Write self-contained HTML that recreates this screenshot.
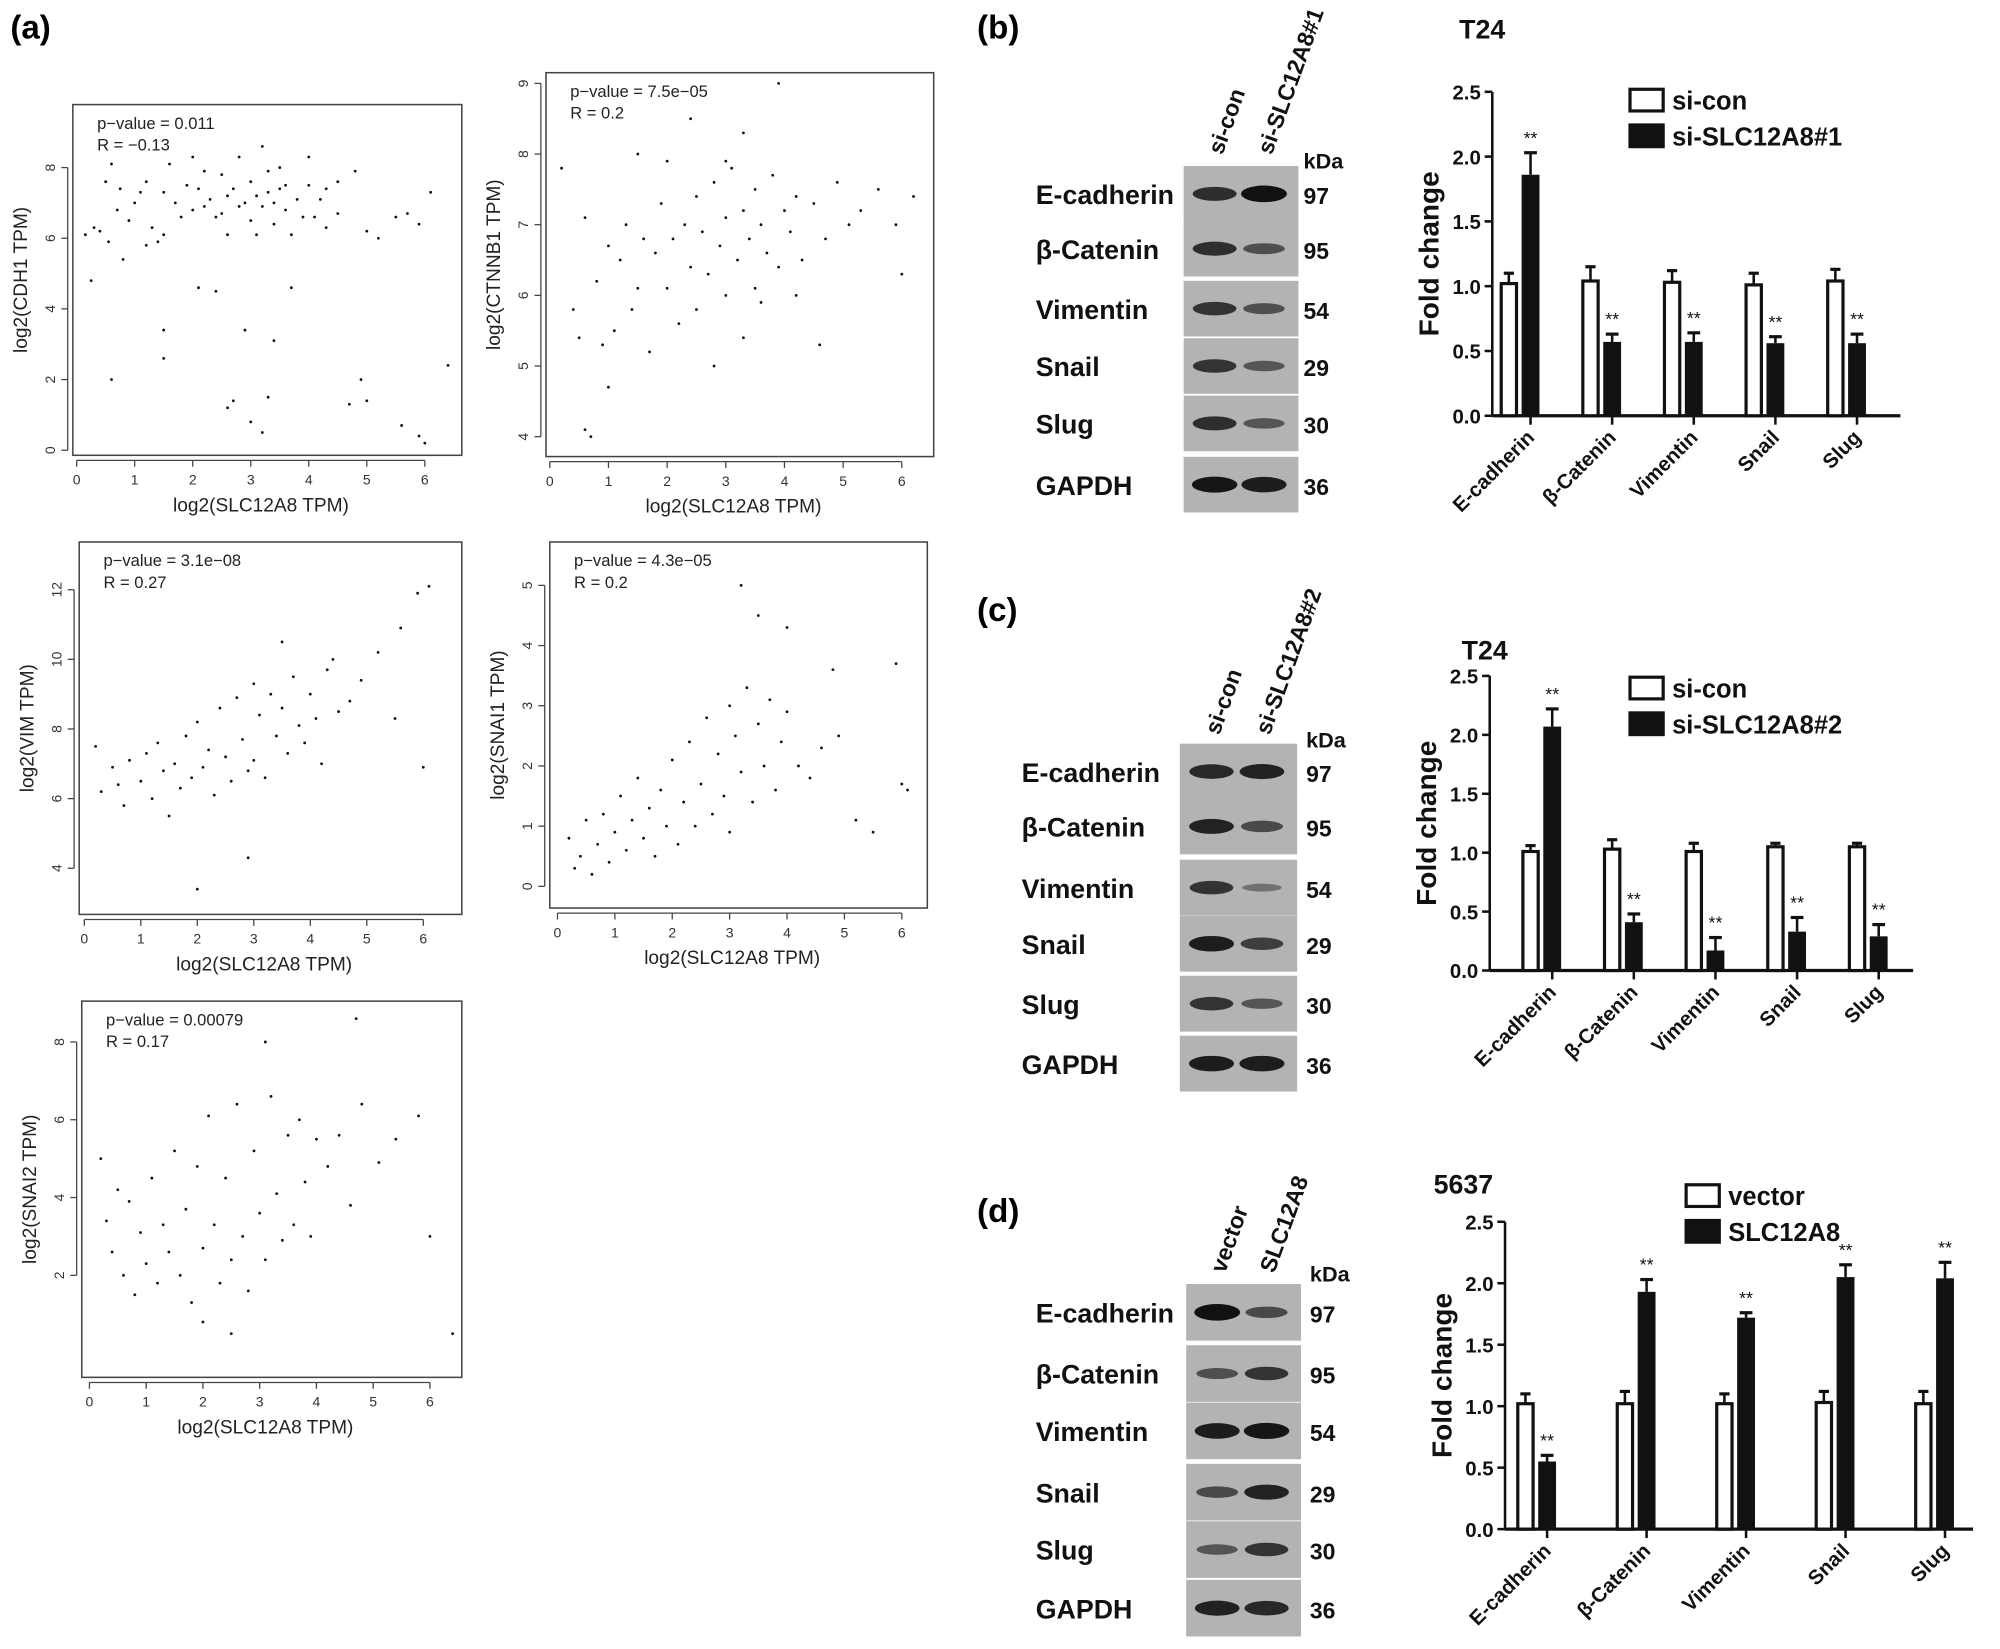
<!DOCTYPE html>
<html><head><meta charset="utf-8"><style>
html,body{margin:0;padding:0;background:#fff}
svg{display:block}
text{font-family:"Liberation Sans",sans-serif}
.b{font-weight:bold}
</style></head><body>
<svg id="fig" width="2000" height="1649" viewBox="0 0 1568 1293" xmlns="http://www.w3.org/2000/svg">
<rect width="1568" height="1293" fill="#fff"/>
<text x="8" y="30" font-size="26" class="b">(a)</text>
<text x="766" y="30" font-size="26" class="b">(b)</text>
<text x="766" y="487" font-size="26" class="b">(c)</text>
<text x="766" y="958" font-size="26" class="b">(d)</text>
<g id="scatters"></g>
<g id="blots"></g>
<g id="bars"></g>
</svg>
<script>
const NS="http://www.w3.org/2000/svg";
function mk(tag,attrs,parent,txt){const e=document.createElementNS(NS,tag);for(const k in attrs)e.setAttribute(k,attrs[k]);if(txt!==undefined)e.textContent=txt;parent.appendChild(e);return e;}

// ---------- scatter data (estimated) ----------
const cdh1X=[0.15,0.25,0.3,0.4,0.5,0.55,0.6,0.7,0.75,0.8,0.9,1.0,1.1,1.2,1.3,1.4,1.5,1.5,1.6,1.7,1.8,1.9,2.0,2.0,2.1,2.2,2.2,2.3,2.4,2.5,2.5,2.6,2.6,2.7,2.8,2.8,2.9,3.0,3.0,3.1,3.1,3.2,3.2,3.3,3.3,3.4,3.4,3.5,3.5,3.6,3.6,3.7,3.8,3.9,4.0,4.0,4.1,4.2,4.3,4.3,4.5,4.5,4.8,5.0,5.2,5.5,5.7,5.9,6.1,6.4,4.7,4.9,5.0,5.6,5.9,6.0,3.2,3.0,2.6,2.7,3.3,1.5,1.5,0.6,2.9,3.4,3.7,2.4,2.1,1.2];
const cdh1Y=[6.1,4.8,6.3,6.2,7.6,5.9,8.1,6.8,7.4,5.4,6.5,7.0,7.3,7.6,6.3,5.9,6.1,7.3,8.1,7.0,6.6,7.5,6.8,8.3,7.4,6.9,7.9,7.1,6.6,7.8,6.7,7.2,6.1,7.4,6.9,8.3,7.0,6.5,7.6,7.2,6.1,8.6,6.9,7.3,7.9,7.0,6.4,7.4,8.0,6.8,7.5,6.1,7.1,6.6,7.5,8.3,6.6,7.1,7.4,6.3,6.7,7.6,7.9,6.2,6.0,6.6,6.7,6.4,7.3,2.4,1.3,2.0,1.4,0.7,0.4,0.2,0.5,0.8,1.2,1.4,1.5,3.4,2.6,2.0,3.4,3.1,4.6,4.5,4.6,5.8];
const ctnnbX=[0.2,0.4,0.5,0.6,0.7,0.8,0.9,1.0,1.1,1.2,1.3,1.4,1.5,1.6,1.7,1.8,1.9,2.0,2.1,2.2,2.3,2.4,2.5,2.5,2.6,2.7,2.8,2.9,3.0,3.0,3.1,3.2,3.3,3.3,3.4,3.5,3.5,3.6,3.7,3.8,3.9,4.0,4.1,4.2,4.3,4.5,4.7,4.9,5.1,5.3,5.6,5.9,6.0,6.2,3.3,3.6,4.2,2.8,4.6,1.0,0.6,1.5,3.9,2.4,2.0,3.0];
const ctnnbY=[7.8,5.8,5.4,7.1,4.0,6.2,5.3,6.7,5.5,6.5,7.0,5.8,6.1,6.8,5.2,6.6,7.3,6.1,6.8,5.6,7.0,6.4,7.4,5.8,6.9,6.3,7.6,6.7,7.1,6.0,7.8,6.5,7.2,8.3,6.8,7.5,6.1,7.0,6.6,7.7,6.4,7.2,6.9,7.4,6.5,7.3,6.8,7.6,7.0,7.2,7.5,7.0,6.3,7.4,5.4,5.9,6.0,5.0,5.3,4.7,4.1,8.0,9.0,8.5,7.9,7.9];
const vimX=[0.2,0.3,0.5,0.6,0.7,0.8,1.0,1.1,1.2,1.3,1.4,1.5,1.6,1.7,1.8,1.9,2.0,2.1,2.2,2.3,2.4,2.5,2.6,2.7,2.8,2.9,3.0,3.0,3.1,3.2,3.3,3.4,3.5,3.6,3.7,3.8,3.9,4.0,4.1,4.2,4.3,4.5,4.7,4.9,5.2,5.5,5.9,6.1,6.0,2.0,2.9,3.5,4.4,5.6];
const vimY=[7.5,6.2,6.9,6.4,5.8,7.1,6.5,7.3,6.0,7.6,6.8,5.5,7.0,6.3,7.8,6.6,8.2,6.9,7.4,6.1,8.6,7.2,6.5,8.9,7.7,6.8,9.3,7.1,8.4,6.6,9.0,7.8,8.6,7.3,9.5,8.1,7.6,9.0,8.3,7.0,9.7,8.5,8.8,9.4,10.2,8.3,11.9,12.1,6.9,3.4,4.3,10.5,10.0,10.9];
const snaiX=[0.2,0.3,0.4,0.5,0.6,0.7,0.8,0.9,1.0,1.1,1.2,1.3,1.4,1.5,1.6,1.7,1.8,1.9,2.0,2.1,2.2,2.3,2.4,2.5,2.6,2.7,2.8,2.9,3.0,3.0,3.1,3.2,3.3,3.4,3.5,3.6,3.7,3.8,3.9,4.0,4.2,4.4,4.6,4.9,5.2,5.5,5.9,6.0,6.1,3.2,3.5,4.0,4.8];
const snaiY=[0.8,0.3,0.5,1.1,0.2,0.7,1.2,0.4,0.9,1.5,0.6,1.1,1.8,0.8,1.3,0.5,1.6,1.0,2.1,0.7,1.4,2.4,1.0,1.7,2.8,1.2,2.2,1.5,3.0,0.9,2.5,1.9,3.3,1.4,2.7,2.0,3.1,1.6,2.4,2.9,2.0,1.8,2.3,2.5,1.1,0.9,3.7,1.7,1.6,5.0,4.5,4.3,3.6];
const snai2X=[0.2,0.3,0.4,0.5,0.6,0.7,0.8,0.9,1.0,1.1,1.2,1.3,1.4,1.5,1.6,1.7,1.8,1.9,2.0,2.1,2.2,2.3,2.4,2.5,2.6,2.7,2.8,2.9,3.0,3.1,3.2,3.3,3.4,3.5,3.6,3.7,3.8,3.9,4.0,4.2,4.4,4.6,4.8,5.1,5.4,5.8,6.0,6.4,4.7,3.1,2.0,2.5];
const snai2Y=[5.0,3.4,2.6,4.2,2.0,3.9,1.5,3.1,2.3,4.5,1.8,3.3,2.6,5.2,2.0,3.7,1.3,4.8,2.7,6.1,3.3,1.8,4.5,2.4,6.4,3.0,1.6,5.2,3.6,2.4,6.6,4.1,2.9,5.6,3.3,6.0,4.4,3.0,5.5,4.8,5.6,3.8,6.4,4.9,5.5,6.1,3.0,0.5,8.6,8.0,0.8,0.5];

const scatterDefs=[
 {name:'cdh1',xs:cdh1X,ys:cdh1Y,bx:57,by:82,bw:305,bh:275,x0:60,xu:45.5,y0:353,yu:27.7,yt:[0,2,4,6,8],yl:'log2(CDH1 TPM)',p:'p−value = 0.011',r:'R = −0.13'},
 {name:'ctnnb1',xs:ctnnbX,ys:ctnnbY,bx:428,by:57,bw:304,bh:301,x0:431,xu:46,y0:564,yu:55.4,yt:[4,5,6,7,8,9],yl:'log2(CTNNB1 TPM)',p:'p−value = 7.5e−05',r:'R = 0.2'},
 {name:'vim',xs:vimX,ys:vimY,bx:62,by:425,bw:300,bh:292,x0:66,xu:44.3,y0:790,yu:27.3,yt:[4,6,8,10,12],yl:'log2(VIM TPM)',p:'p−value = 3.1e−08',r:'R = 0.27'},
 {name:'snai1',xs:snaiX,ys:snaiY,bx:431,by:425,bw:296,bh:287,x0:437,xu:45,y0:695,yu:47.2,yt:[0,1,2,3,4,5],yl:'log2(SNAI1 TPM)',p:'p−value = 4.3e−05',r:'R = 0.2'},
 {name:'snai2',xs:snai2X,ys:snai2Y,bx:64,by:785,bw:298,bh:295,x0:70,xu:44.5,y0:1061,yu:30.5,yt:[2,4,6,8],yl:'log2(SNAI2 TPM)',p:'p−value = 0.00079',r:'R = 0.17'}
];
const sg=document.getElementById('scatters');
scatterDefs.forEach(d=>{
 const g=mk('g',{},sg);
 
 
 const sx=v=>d.x0+v*d.xu, sy=v=>d.y0-v*d.yu;
 const box=mk('rect',{x:d.bx,y:d.by,width:d.bw,height:d.bh,fill:'none',stroke:'#444','stroke-width':1.2},g);
 
 const axY=d.by+d.bh+4;
 mk('line',{x1:sx(0),x2:sx(6),y1:axY,y2:axY,stroke:'#444'},g);
 for(let i=0;i<=6;i++){mk('line',{x1:sx(i),x2:sx(i),y1:axY,y2:axY+5,stroke:'#444'},g);
  const t=mk('text',{x:sx(i),y:axY+19,'font-size':11,'text-anchor':'middle',fill:'#333'},g,String(i));
  }
 const axX=d.bx-4;
 mk('line',{x1:axX,x2:axX,y1:sy(d.yt[0]),y2:sy(d.yt[d.yt.length-1]),stroke:'#444'},g);
 d.yt.forEach(v=>{mk('line',{x1:axX-5,x2:axX,y1:sy(v),y2:sy(v),stroke:'#444'},g);
  const t=mk('text',{x:axX-10,y:sy(v),'font-size':11,'text-anchor':'middle',fill:'#333',transform:`rotate(-90 ${axX-10} ${sy(v)})`},g,String(v));
  });
 const xt=mk('text',{x:d.bx+d.bw/2-5,y:axY+40,'font-size':15,'text-anchor':'middle',fill:'#222'},g,'log2(SLC12A8 TPM)');
 
 const yx=d.bx-36,yy=d.by+d.bh/2;
 const yt=mk('text',{x:yx,y:yy,'font-size':15,'text-anchor':'middle',fill:'#222',transform:`rotate(-90 ${yx} ${yy})`},g,d.yl);
 
 const pt=mk('text',{x:d.bx+19,y:d.by+19,'font-size':13,fill:'#222'},g,d.p);
 
 const rt=mk('text',{x:d.bx+19,y:d.by+36,'font-size':13,fill:'#222'},g,d.r);
 
 d.xs.forEach((x,i)=>{const c=mk('circle',{cx:sx(x),cy:sy(d.ys[i]),r:1.1,fill:'#111'},g);
  });
});

// ---------- western blots ----------
const proteins=['E-cadherin','β-Catenin','Vimentin','Snail','Slug','GAPDH'];
const kdas=['97','95','54','29','30','36'];
const blotDefs=[
 {name:'b',lanes:['si-con','si-SLC12A8#1'],bx:928,bw:90,top:128,rows:[152,195,242,287,332,380],lx:812,kx:1022,ky:132,int:[[.75,1],[.75,.45],[.7,.45],[.7,.4],[.75,.4],[.95,.9]]},
 {name:'c',lanes:['si-con','si-SLC12A8#2'],bx:925,bw:92,top:583,rows:[605,648,696,740,787,834],lx:801,kx:1024,ky:586,int:[[.8,.85],[.85,.5],[.7,.15],[.9,.6],[.7,.4],[.9,.9]]},
 {name:'d',lanes:['vector','SLC12A8'],bx:930,bw:90,top:1005,rows:[1029,1077,1122,1170,1215,1261],lx:812,kx:1027,ky:1005,int:[[1,.5],[.45,.7],[.9,.95],[.5,.85],[.4,.7],[.85,.8]]}
];
const bg=document.getElementById('blots');
blotDefs.forEach(d=>{
 const g=mk('g',{},bg);
 
 
 const h=(d.rows[5]-d.rows[0])/5;
 d.rows.forEach((ry,i)=>{
  const r=mk('rect',{x:d.bx,y:ry-h/2+1,width:d.bw,height:h-2,fill:'#b3b3b3'},g);
  
  [0,1].forEach(j=>{const it=d.int[i][j];const cx=d.bx+d.bw*(j?0.7:0.27);
   const e=mk('ellipse',{cx:cx,cy:ry,rx:15+3*it,ry:2.5+4*it,fill:'#111','fill-opacity':0.3+0.7*it},g);
   });
  const t=mk('text',{x:d.lx,y:ry+8,'font-size':21,class:'b',fill:'#111'},g,proteins[i]);
  
  const k=mk('text',{x:d.kx,y:ry+8,'font-size':18,class:'b',fill:'#111'},g,kdas[i]);
  
 });
 const kt=mk('text',{x:d.kx,y:d.ky,'font-size':17,class:'b',fill:'#111'},g,'kDa');
 
 d.lanes.forEach((ln,j)=>{const x=d.bx+d.bw*(j?0.7:0.27)+6,y=d.top-6;
  const t=mk('text',{x:x,y:y,'font-size':18,class:'b',fill:'#111',transform:`rotate(-70 ${x} ${y})`},g,ln);
  });
});

// ---------- bar charts ----------
const categories=['E-cadherin','β-Catenin','Vimentin','Snail','Slug'];
const yTicks=['0.0','0.5','1.0','1.5','2.0','2.5'];
const bCtrl=[1.02,1.04,1.03,1.01,1.04];
const bCtrlErr=[0.08,0.11,0.09,0.09,0.09];
const bTreat=[1.86,0.57,0.57,0.56,0.56];
const bTreatErr=[0.17,0.06,0.07,0.05,0.07];
const cCtrl=[1.01,1.03,1.01,1.05,1.05];
const cCtrlErr=[0.05,0.08,0.07,0.03,0.03];
const cTreat=[2.07,0.41,0.17,0.33,0.29];
const cTreatErr=[0.15,0.07,0.11,0.12,0.10];
const dCtrl=[1.02,1.02,1.02,1.03,1.02];
const dCtrlErr=[0.08,0.10,0.08,0.09,0.10];
const dTreat=[0.55,1.93,1.72,2.05,2.04];
const dTreatErr=[0.05,0.10,0.04,0.10,0.13];

const barDefs=[
 {name:'b',title:'T24',tx:1144,ty:30,leg:['si-con','si-SLC12A8#1'],lgx:1278,lgy:78,ax:1170,y0:326,y25:72,xEnd:1490,c0:1200,sp:64,ctrl:bCtrl,ce:bCtrlErr,tr:bTreat,te:bTreatErr},
 {name:'c',title:'T24',tx:1146,ty:517,leg:['si-con','si-SLC12A8#2'],lgx:1278,lgy:539,ax:1168,y0:761,y25:530,xEnd:1500,c0:1217,sp:64,ctrl:cCtrl,ce:cCtrlErr,tr:cTreat,te:cTreatErr},
 {name:'d',title:'5637',tx:1124,ty:936,leg:['vector','SLC12A8'],lgx:1322,lgy:937,ax:1180,y0:1199,y25:958,xEnd:1547,c0:1213,sp:78,ctrl:dCtrl,ce:dCtrlErr,tr:dTreat,te:dTreatErr}
];
const brg=document.getElementById('bars');
barDefs.forEach(d=>{
 const g=mk('g',{},brg);
 
 
 const sy=v=>d.y0-(d.y0-d.y25)*v/2.5;
 const cx=i=>d.c0+i*d.sp;
 const tt=mk('text',{x:d.tx,y:d.ty,'font-size':21,class:'b',fill:'#111'},g,d.title);
 
 mk('line',{x1:d.ax,x2:d.ax,y1:d.y0,y2:d.y25,stroke:'#111','stroke-width':2},g);
 mk('line',{x1:d.ax,x2:d.xEnd,y1:d.y0,y2:d.y0,stroke:'#111','stroke-width':2.5},g);
 yTicks.forEach(t=>{const v=parseFloat(t);
  mk('line',{x1:d.ax-6,x2:d.ax,y1:sy(v),y2:sy(v),stroke:'#111','stroke-width':2},g);
  const e=mk('text',{x:d.ax-9,y:sy(v)+6,'font-size':16,class:'b','text-anchor':'end',fill:'#111'},g,t);
  });
 const yx=d.ax-42,yy=(d.y0+d.y25)/2;
 const yl=mk('text',{x:yx,y:yy,'font-size':22,class:'b','text-anchor':'middle',fill:'#111',transform:`rotate(-90 ${yx} ${yy})`},g,'Fold change');
 
 categories.forEach((c,i)=>{
  const x=cx(i);
  mk('line',{x1:x,x2:x,y1:d.y0,y2:d.y0+7,stroke:'#111','stroke-width':2},g);
  const lx=x+4,ly=d.y0+18;
  const t=mk('text',{x:lx,y:ly,'font-size':16,class:'b','text-anchor':'end',fill:'#111',transform:`rotate(-45 ${lx} ${ly})`},g,c);
  
  const wx=x-23;
  mk('line',{x1:wx+6,x2:wx+6,y1:sy(d.ctrl[i]),y2:sy(d.ctrl[i]+d.ce[i]),stroke:'#111','stroke-width':2},g);
  mk('line',{x1:wx+2,x2:wx+10,y1:sy(d.ctrl[i]+d.ce[i]),y2:sy(d.ctrl[i]+d.ce[i]),stroke:'#111','stroke-width':2.5},g);
  const r1=mk('rect',{x:wx,y:sy(d.ctrl[i]),width:12,height:d.y0-sy(d.ctrl[i]),fill:'#fff',stroke:'#111','stroke-width':2.5},g);
  
  const bx=x-7;
  mk('line',{x1:x,x2:x,y1:sy(d.tr[i]),y2:sy(d.tr[i]+d.te[i]),stroke:'#111','stroke-width':2},g);
  mk('line',{x1:x-5,x2:x+5,y1:sy(d.tr[i]+d.te[i]),y2:sy(d.tr[i]+d.te[i]),stroke:'#111','stroke-width':2.5},g);
  const r2=mk('rect',{x:bx,y:sy(d.tr[i]),width:14,height:d.y0-sy(d.tr[i]),fill:'#111'},g);
  
  const s=mk('text',{x:x,y:sy(d.tr[i]+d.te[i])-7,'font-size':14,'text-anchor':'middle',fill:'#111'},g,'**');
  
 });
 d.leg.forEach((l,j)=>{
  const y=d.lgy+j*28;
  const r=mk('rect',{x:d.lgx,y:y-8,width:26,height:17,fill:j?'#111':'#fff',stroke:'#111','stroke-width':2.5},g);
  
  const t=mk('text',{x:d.lgx+33,y:y+8,'font-size':20,class:'b',fill:'#111'},g,l);
  
 });
});
</script>
</body></html>
